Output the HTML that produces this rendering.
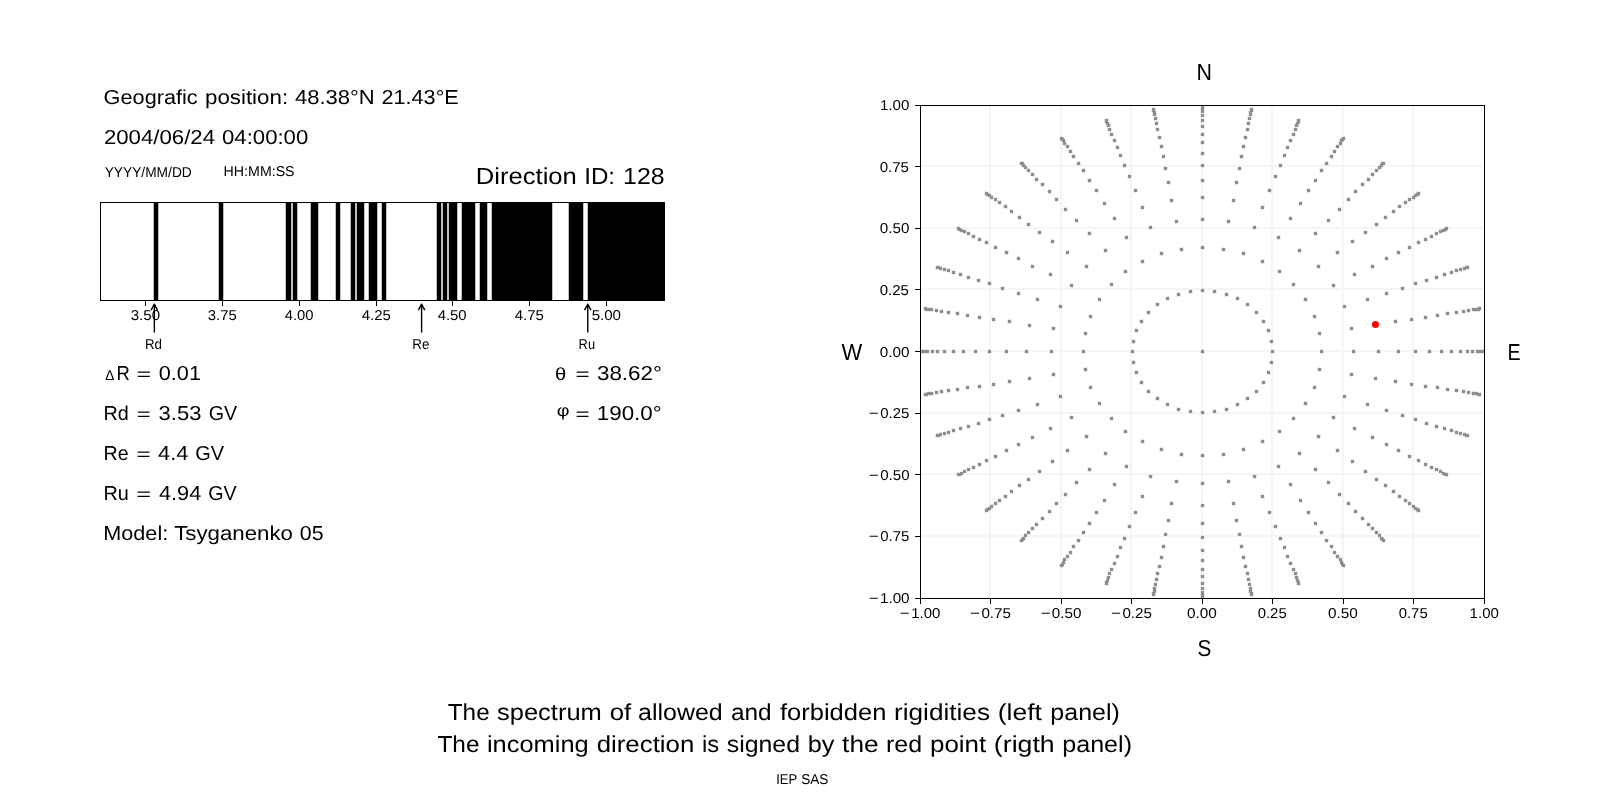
<!DOCTYPE html>
<html><head><meta charset="utf-8"><title>Rigidity spectrum</title><style>
html,body{margin:0;padding:0;background:#fff;width:1600px;height:800px;overflow:hidden}
svg{display:block;will-change:transform;text-rendering:geometricPrecision}
text{font-family:"Liberation Sans", sans-serif;fill:#000}
</style></head><body>
<svg width="1600" height="800" viewBox="0 0 1600 800">
<rect width="1600" height="800" fill="#fff"/>
<g id="gfx">
<g shape-rendering="crispEdges">
<rect x="100" y="202" width="565" height="1"/>
<rect x="100" y="300" width="565" height="1"/>
<rect x="100" y="202" width="1" height="99"/>
<rect x="664" y="202" width="1" height="99"/>
<rect x="145" y="301" width="1" height="4.5"/>
<rect x="222" y="301" width="1" height="4.5"/>
<rect x="299" y="301" width="1" height="4.5"/>
<rect x="376" y="301" width="1" height="4.5"/>
<rect x="452" y="301" width="1" height="4.5"/>
<rect x="529" y="301" width="1" height="4.5"/>
<rect x="606" y="301" width="1" height="4.5"/>
<rect x="989" y="106" width="2" height="492" fill="#f5f5f5"/>
<rect x="921" y="165" width="563" height="2" fill="#f5f5f5"/>
<rect x="1060" y="106" width="2" height="492" fill="#f5f5f5"/>
<rect x="921" y="227" width="563" height="2" fill="#f5f5f5"/>
<rect x="1130" y="106" width="2" height="492" fill="#f5f5f5"/>
<rect x="921" y="288" width="563" height="2" fill="#f5f5f5"/>
<rect x="1201" y="106" width="2" height="492" fill="#f5f5f5"/>
<rect x="921" y="350" width="563" height="2" fill="#f5f5f5"/>
<rect x="1271" y="106" width="2" height="492" fill="#f5f5f5"/>
<rect x="921" y="412" width="563" height="2" fill="#f5f5f5"/>
<rect x="1342" y="106" width="2" height="492" fill="#f5f5f5"/>
<rect x="921" y="473" width="563" height="2" fill="#f5f5f5"/>
<rect x="1412" y="106" width="2" height="492" fill="#f5f5f5"/>
<rect x="921" y="535" width="563" height="2" fill="#f5f5f5"/>
<path fill="#e8e8e8" d="M1200 350h5v3h-5zM1201 349h3v5h-3zM1130 350h5v3h-5zM1131 349h3v5h-3zM1131 361h5v3h-5zM1132 360h3v5h-3zM1134 371h5v3h-5zM1135 370h3v5h-3zM1139 381h5v3h-5zM1140 380h3v5h-3zM1146 390h5v3h-5zM1147 389h3v5h-3zM1155 397h5v3h-5zM1156 396h3v5h-3zM1165 403h5v3h-5zM1166 402h3v5h-3zM1176 408h5v3h-5zM1177 407h3v5h-3zM1188 410h5v3h-5zM1189 409h3v5h-3zM1200 411h5v3h-5zM1201 410h3v5h-3zM1212 410h5v3h-5zM1213 409h3v5h-3zM1224 408h5v3h-5zM1225 407h3v5h-3zM1235 403h5v3h-5zM1236 402h3v5h-3zM1245 397h5v3h-5zM1246 396h3v5h-3zM1254 390h5v3h-5zM1255 389h3v5h-3zM1261 381h5v3h-5zM1262 380h3v5h-3zM1266 371h5v3h-5zM1267 370h3v5h-3zM1269 361h5v3h-5zM1270 360h3v5h-3zM1270 350h5v3h-5zM1271 349h3v5h-3zM1269 340h5v3h-5zM1270 339h3v5h-3zM1266 329h5v3h-5zM1267 328h3v5h-3zM1261 320h5v3h-5zM1262 319h3v5h-3zM1254 311h5v3h-5zM1255 310h3v5h-3zM1245 303h5v3h-5zM1246 302h3v5h-3zM1235 297h5v3h-5zM1236 296h3v5h-3zM1224 293h5v3h-5zM1225 292h3v5h-3zM1212 290h5v3h-5zM1213 289h3v5h-3zM1200 289h5v3h-5zM1201 288h3v5h-3zM1188 290h5v3h-5zM1189 289h3v5h-3zM1176 293h5v3h-5zM1177 292h3v5h-3zM1165 297h5v3h-5zM1166 296h3v5h-3zM1155 303h5v3h-5zM1156 302h3v5h-3zM1146 311h5v3h-5zM1147 310h3v5h-3zM1139 320h5v3h-5zM1140 319h3v5h-3zM1134 329h5v3h-5zM1135 328h3v5h-3zM1131 340h5v3h-5zM1132 339h3v5h-3zM1081 350h5v3h-5zM1082 349h3v5h-3zM1083 368h5v3h-5zM1084 367h3v5h-3zM1088 386h5v3h-5zM1089 385h3v5h-3zM1097 402h5v3h-5zM1098 401h3v5h-3zM1109 417h5v3h-5zM1110 416h3v5h-3zM1123 430h5v3h-5zM1124 429h3v5h-3zM1140 440h5v3h-5zM1141 439h3v5h-3zM1159 448h5v3h-5zM1160 447h3v5h-3zM1179 453h5v3h-5zM1180 452h3v5h-3zM1200 454h5v3h-5zM1201 453h3v5h-3zM1221 453h5v3h-5zM1222 452h3v5h-3zM1241 448h5v3h-5zM1242 447h3v5h-3zM1260 440h5v3h-5zM1261 439h3v5h-3zM1277 430h5v3h-5zM1278 429h3v5h-3zM1291 417h5v3h-5zM1292 416h3v5h-3zM1303 402h5v3h-5zM1304 401h3v5h-3zM1312 386h5v3h-5zM1313 385h3v5h-3zM1317 368h5v3h-5zM1318 367h3v5h-3zM1319 350h5v3h-5zM1320 349h3v5h-3zM1317 332h5v3h-5zM1318 331h3v5h-3zM1312 315h5v3h-5zM1313 314h3v5h-3zM1303 298h5v3h-5zM1304 297h3v5h-3zM1291 283h5v3h-5zM1292 282h3v5h-3zM1277 270h5v3h-5zM1278 269h3v5h-3zM1260 260h5v3h-5zM1261 259h3v5h-3zM1241 252h5v3h-5zM1242 251h3v5h-3zM1221 248h5v3h-5zM1222 247h3v5h-3zM1200 246h5v3h-5zM1201 245h3v5h-3zM1179 248h5v3h-5zM1180 247h3v5h-3zM1159 252h5v3h-5zM1160 251h3v5h-3zM1140 260h5v3h-5zM1141 259h3v5h-3zM1123 270h5v3h-5zM1124 269h3v5h-3zM1109 283h5v3h-5zM1110 282h3v5h-3zM1097 298h5v3h-5zM1098 297h3v5h-3zM1088 315h5v3h-5zM1089 314h3v5h-3zM1083 332h5v3h-5zM1084 331h3v5h-3zM1049 350h5v3h-5zM1050 349h3v5h-3zM1051 373h5v3h-5zM1052 372h3v5h-3zM1058 395h5v3h-5zM1059 394h3v5h-3zM1069 416h5v3h-5zM1070 415h3v5h-3zM1084 435h5v3h-5zM1085 434h3v5h-3zM1103 452h5v3h-5zM1104 451h3v5h-3zM1124 465h5v3h-5zM1125 464h3v5h-3zM1148 475h5v3h-5zM1149 474h3v5h-3zM1174 480h5v3h-5zM1175 479h3v5h-3zM1200 482h5v3h-5zM1201 481h3v5h-3zM1226 480h5v3h-5zM1227 479h3v5h-3zM1252 475h5v3h-5zM1253 474h3v5h-3zM1276 465h5v3h-5zM1277 464h3v5h-3zM1297 452h5v3h-5zM1298 451h3v5h-3zM1316 435h5v3h-5zM1317 434h3v5h-3zM1331 416h5v3h-5zM1332 415h3v5h-3zM1342 395h5v3h-5zM1343 394h3v5h-3zM1349 373h5v3h-5zM1350 372h3v5h-3zM1351 350h5v3h-5zM1352 349h3v5h-3zM1349 327h5v3h-5zM1350 326h3v5h-3zM1342 305h5v3h-5zM1343 304h3v5h-3zM1331 284h5v3h-5zM1332 283h3v5h-3zM1316 265h5v3h-5zM1317 264h3v5h-3zM1297 249h5v3h-5zM1298 248h3v5h-3zM1276 236h5v3h-5zM1277 235h3v5h-3zM1252 226h5v3h-5zM1253 225h3v5h-3zM1226 220h5v3h-5zM1227 219h3v5h-3zM1200 218h5v3h-5zM1201 217h3v5h-3zM1174 220h5v3h-5zM1175 219h3v5h-3zM1148 226h5v3h-5zM1149 225h3v5h-3zM1124 236h5v3h-5zM1125 235h3v5h-3zM1103 249h5v3h-5zM1104 248h3v5h-3zM1084 265h5v3h-5zM1085 264h3v5h-3zM1069 284h5v3h-5zM1070 283h3v5h-3zM1058 305h5v3h-5zM1059 304h3v5h-3zM1051 327h5v3h-5zM1052 326h3v5h-3zM1024 350h5v3h-5zM1025 349h3v5h-3zM1027 377h5v3h-5zM1028 376h3v5h-3zM1035 403h5v3h-5zM1036 402h3v5h-3zM1048 427h5v3h-5zM1049 426h3v5h-3zM1065 449h5v3h-5zM1066 448h3v5h-3zM1087 468h5v3h-5zM1088 467h3v5h-3zM1112 483h5v3h-5zM1113 482h3v5h-3zM1140 495h5v3h-5zM1141 494h3v5h-3zM1169 502h5v3h-5zM1170 501h3v5h-3zM1200 504h5v3h-5zM1201 503h3v5h-3zM1231 502h5v3h-5zM1232 501h3v5h-3zM1260 495h5v3h-5zM1261 494h3v5h-3zM1288 483h5v3h-5zM1289 482h3v5h-3zM1313 468h5v3h-5zM1314 467h3v5h-3zM1335 449h5v3h-5zM1336 448h3v5h-3zM1352 427h5v3h-5zM1353 426h3v5h-3zM1365 403h5v3h-5zM1366 402h3v5h-3zM1373 377h5v3h-5zM1374 376h3v5h-3zM1376 350h5v3h-5zM1377 349h3v5h-3zM1373 324h5v3h-5zM1374 323h3v5h-3zM1365 298h5v3h-5zM1366 297h3v5h-3zM1352 273h5v3h-5zM1353 272h3v5h-3zM1335 251h5v3h-5zM1336 250h3v5h-3zM1313 232h5v3h-5zM1314 231h3v5h-3zM1288 217h5v3h-5zM1289 216h3v5h-3zM1260 206h5v3h-5zM1261 205h3v5h-3zM1231 199h5v3h-5zM1232 198h3v5h-3zM1200 196h5v3h-5zM1201 195h3v5h-3zM1169 199h5v3h-5zM1170 198h3v5h-3zM1140 206h5v3h-5zM1141 205h3v5h-3zM1112 217h5v3h-5zM1113 216h3v5h-3zM1087 232h5v3h-5zM1088 231h3v5h-3zM1065 251h5v3h-5zM1066 250h3v5h-3zM1048 273h5v3h-5zM1049 272h3v5h-3zM1035 298h5v3h-5zM1036 297h3v5h-3zM1027 324h5v3h-5zM1028 323h3v5h-3zM1004 350h5v3h-5zM1005 349h3v5h-3zM1007 380h5v3h-5zM1008 379h3v5h-3zM1016 409h5v3h-5zM1017 408h3v5h-3zM1030 436h5v3h-5zM1031 435h3v5h-3zM1050 460h5v3h-5zM1051 459h3v5h-3zM1074 481h5v3h-5zM1075 480h3v5h-3zM1102 499h5v3h-5zM1103 498h3v5h-3zM1133 511h5v3h-5zM1134 510h3v5h-3zM1166 519h5v3h-5zM1167 518h3v5h-3zM1200 522h5v3h-5zM1201 521h3v5h-3zM1234 519h5v3h-5zM1235 518h3v5h-3zM1267 511h5v3h-5zM1268 510h3v5h-3zM1298 499h5v3h-5zM1299 498h3v5h-3zM1326 481h5v3h-5zM1327 480h3v5h-3zM1350 460h5v3h-5zM1351 459h3v5h-3zM1370 436h5v3h-5zM1371 435h3v5h-3zM1384 409h5v3h-5zM1385 408h3v5h-3zM1393 380h5v3h-5zM1394 379h3v5h-3zM1396 350h5v3h-5zM1397 349h3v5h-3zM1393 320h5v3h-5zM1394 319h3v5h-3zM1384 292h5v3h-5zM1385 291h3v5h-3zM1370 265h5v3h-5zM1371 264h3v5h-3zM1350 240h5v3h-5zM1351 239h3v5h-3zM1326 219h5v3h-5zM1327 218h3v5h-3zM1298 202h5v3h-5zM1299 201h3v5h-3zM1267 189h5v3h-5zM1268 188h3v5h-3zM1234 181h5v3h-5zM1235 180h3v5h-3zM1200 179h5v3h-5zM1201 178h3v5h-3zM1166 181h5v3h-5zM1167 180h3v5h-3zM1133 189h5v3h-5zM1134 188h3v5h-3zM1102 202h5v3h-5zM1103 201h3v5h-3zM1074 219h5v3h-5zM1075 218h3v5h-3zM1050 240h5v3h-5zM1051 239h3v5h-3zM1030 265h5v3h-5zM1031 264h3v5h-3zM1016 292h5v3h-5zM1017 291h3v5h-3zM1007 320h5v3h-5zM1008 319h3v5h-3zM987 350h5v3h-5zM988 349h3v5h-3zM991 383h5v3h-5zM992 382h3v5h-3zM1000 414h5v3h-5zM1001 413h3v5h-3zM1016 443h5v3h-5zM1017 442h3v5h-3zM1037 470h5v3h-5zM1038 469h3v5h-3zM1063 493h5v3h-5zM1064 492h3v5h-3zM1094 511h5v3h-5zM1095 510h3v5h-3zM1127 525h5v3h-5zM1128 524h3v5h-3zM1163 533h5v3h-5zM1164 532h3v5h-3zM1200 536h5v3h-5zM1201 535h3v5h-3zM1237 533h5v3h-5zM1238 532h3v5h-3zM1273 525h5v3h-5zM1274 524h3v5h-3zM1306 511h5v3h-5zM1307 510h3v5h-3zM1337 493h5v3h-5zM1338 492h3v5h-3zM1363 470h5v3h-5zM1364 469h3v5h-3zM1384 443h5v3h-5zM1385 442h3v5h-3zM1400 414h5v3h-5zM1401 413h3v5h-3zM1409 383h5v3h-5zM1410 382h3v5h-3zM1413 350h5v3h-5zM1414 349h3v5h-3zM1409 318h5v3h-5zM1410 317h3v5h-3zM1400 287h5v3h-5zM1401 286h3v5h-3zM1384 257h5v3h-5zM1385 256h3v5h-3zM1363 231h5v3h-5zM1364 230h3v5h-3zM1337 208h5v3h-5zM1338 207h3v5h-3zM1306 189h5v3h-5zM1307 188h3v5h-3zM1273 175h5v3h-5zM1274 174h3v5h-3zM1237 167h5v3h-5zM1238 166h3v5h-3zM1200 164h5v3h-5zM1201 163h3v5h-3zM1163 167h5v3h-5zM1164 166h3v5h-3zM1127 175h5v3h-5zM1128 174h3v5h-3zM1094 189h5v3h-5zM1095 188h3v5h-3zM1063 208h5v3h-5zM1064 207h3v5h-3zM1037 231h5v3h-5zM1038 230h3v5h-3zM1016 257h5v3h-5zM1017 256h3v5h-3zM1000 287h5v3h-5zM1001 286h3v5h-3zM991 318h5v3h-5zM992 317h3v5h-3zM973 350h5v3h-5zM974 349h3v5h-3zM977 385h5v3h-5zM978 384h3v5h-3zM987 418h5v3h-5zM988 417h3v5h-3zM1004 449h5v3h-5zM1005 448h3v5h-3zM1026 478h5v3h-5zM1027 477h3v5h-3zM1054 502h5v3h-5zM1055 501h3v5h-3zM1087 522h5v3h-5zM1088 521h3v5h-3zM1122 537h5v3h-5zM1123 536h3v5h-3zM1161 545h5v3h-5zM1162 544h3v5h-3zM1200 549h5v3h-5zM1201 548h3v5h-3zM1239 545h5v3h-5zM1240 544h3v5h-3zM1278 537h5v3h-5zM1279 536h3v5h-3zM1313 522h5v3h-5zM1314 521h3v5h-3zM1346 502h5v3h-5zM1347 501h3v5h-3zM1374 478h5v3h-5zM1375 477h3v5h-3zM1396 449h5v3h-5zM1397 448h3v5h-3zM1413 418h5v3h-5zM1414 417h3v5h-3zM1423 385h5v3h-5zM1424 384h3v5h-3zM1427 350h5v3h-5zM1428 349h3v5h-3zM1423 316h5v3h-5zM1424 315h3v5h-3zM1413 282h5v3h-5zM1414 281h3v5h-3zM1396 251h5v3h-5zM1397 250h3v5h-3zM1374 223h5v3h-5zM1375 222h3v5h-3zM1346 198h5v3h-5zM1347 197h3v5h-3zM1313 179h5v3h-5zM1314 178h3v5h-3zM1278 164h5v3h-5zM1279 163h3v5h-3zM1239 155h5v3h-5zM1240 154h3v5h-3zM1200 152h5v3h-5zM1201 151h3v5h-3zM1161 155h5v3h-5zM1162 154h3v5h-3zM1122 164h5v3h-5zM1123 163h3v5h-3zM1087 179h5v3h-5zM1088 178h3v5h-3zM1054 198h5v3h-5zM1055 197h3v5h-3zM1026 223h5v3h-5zM1027 222h3v5h-3zM1004 251h5v3h-5zM1005 250h3v5h-3zM987 282h5v3h-5zM988 281h3v5h-3zM977 316h5v3h-5zM978 315h3v5h-3zM961 350h5v3h-5zM962 349h3v5h-3zM965 386h5v3h-5zM966 385h3v5h-3zM976 422h5v3h-5zM977 421h3v5h-3zM993 455h5v3h-5zM994 454h3v5h-3zM1017 484h5v3h-5zM1018 483h3v5h-3zM1047 510h5v3h-5zM1048 509h3v5h-3zM1081 531h5v3h-5zM1082 530h3v5h-3zM1118 546h5v3h-5zM1119 545h3v5h-3zM1159 556h5v3h-5zM1160 555h3v5h-3zM1200 559h5v3h-5zM1201 558h3v5h-3zM1241 556h5v3h-5zM1242 555h3v5h-3zM1282 546h5v3h-5zM1283 545h3v5h-3zM1319 531h5v3h-5zM1320 530h3v5h-3zM1353 510h5v3h-5zM1354 509h3v5h-3zM1383 484h5v3h-5zM1384 483h3v5h-3zM1407 455h5v3h-5zM1408 454h3v5h-3zM1424 422h5v3h-5zM1425 421h3v5h-3zM1435 386h5v3h-5zM1436 385h3v5h-3zM1439 350h5v3h-5zM1440 349h3v5h-3zM1435 314h5v3h-5zM1436 313h3v5h-3zM1424 279h5v3h-5zM1425 278h3v5h-3zM1407 246h5v3h-5zM1408 245h3v5h-3zM1383 216h5v3h-5zM1384 215h3v5h-3zM1353 190h5v3h-5zM1354 189h3v5h-3zM1319 169h5v3h-5zM1320 168h3v5h-3zM1282 154h5v3h-5zM1283 153h3v5h-3zM1241 145h5v3h-5zM1242 144h3v5h-3zM1200 141h5v3h-5zM1201 140h3v5h-3zM1159 145h5v3h-5zM1160 144h3v5h-3zM1118 154h5v3h-5zM1119 153h3v5h-3zM1081 169h5v3h-5zM1082 168h3v5h-3zM1047 190h5v3h-5zM1048 189h3v5h-3zM1017 216h5v3h-5zM1018 215h3v5h-3zM993 246h5v3h-5zM994 245h3v5h-3zM976 279h5v3h-5zM977 278h3v5h-3zM965 314h5v3h-5zM966 313h3v5h-3zM951 350h5v3h-5zM952 349h3v5h-3zM955 388h5v3h-5zM956 387h3v5h-3zM966 425h5v3h-5zM967 424h3v5h-3zM984 459h5v3h-5zM985 458h3v5h-3zM1009 490h5v3h-5zM1010 489h3v5h-3zM1040 517h5v3h-5zM1041 516h3v5h-3zM1076 539h5v3h-5zM1077 538h3v5h-3zM1115 555h5v3h-5zM1116 554h3v5h-3zM1157 565h5v3h-5zM1158 564h3v5h-3zM1200 568h5v3h-5zM1201 567h3v5h-3zM1243 565h5v3h-5zM1244 564h3v5h-3zM1285 555h5v3h-5zM1286 554h3v5h-3zM1324 539h5v3h-5zM1325 538h3v5h-3zM1360 517h5v3h-5zM1361 516h3v5h-3zM1391 490h5v3h-5zM1392 489h3v5h-3zM1416 459h5v3h-5zM1417 458h3v5h-3zM1434 425h5v3h-5zM1435 424h3v5h-3zM1445 388h5v3h-5zM1446 387h3v5h-3zM1449 350h5v3h-5zM1450 349h3v5h-3zM1445 312h5v3h-5zM1446 311h3v5h-3zM1434 276h5v3h-5zM1435 275h3v5h-3zM1416 241h5v3h-5zM1417 240h3v5h-3zM1391 210h5v3h-5zM1392 209h3v5h-3zM1360 183h5v3h-5zM1361 182h3v5h-3zM1324 162h5v3h-5zM1325 161h3v5h-3zM1285 146h5v3h-5zM1286 145h3v5h-3zM1243 136h5v3h-5zM1244 135h3v5h-3zM1200 133h5v3h-5zM1201 132h3v5h-3zM1157 136h5v3h-5zM1158 135h3v5h-3zM1115 146h5v3h-5zM1116 145h3v5h-3zM1076 162h5v3h-5zM1077 161h3v5h-3zM1040 183h5v3h-5zM1041 182h3v5h-3zM1009 210h5v3h-5zM1010 209h3v5h-3zM984 241h5v3h-5zM985 240h3v5h-3zM966 276h5v3h-5zM967 275h3v5h-3zM955 312h5v3h-5zM956 311h3v5h-3zM942 350h5v3h-5zM943 349h3v5h-3zM946 389h5v3h-5zM947 388h3v5h-3zM958 427h5v3h-5zM959 426h3v5h-3zM977 463h5v3h-5zM978 462h3v5h-3zM1003 495h5v3h-5zM1004 494h3v5h-3zM1034 523h5v3h-5zM1035 522h3v5h-3zM1071 545h5v3h-5zM1072 544h3v5h-3zM1112 562h5v3h-5zM1113 561h3v5h-3zM1155 572h5v3h-5zM1156 571h3v5h-3zM1200 575h5v3h-5zM1201 574h3v5h-3zM1245 572h5v3h-5zM1246 571h3v5h-3zM1288 562h5v3h-5zM1289 561h3v5h-3zM1329 545h5v3h-5zM1330 544h3v5h-3zM1366 523h5v3h-5zM1367 522h3v5h-3zM1397 495h5v3h-5zM1398 494h3v5h-3zM1423 463h5v3h-5zM1424 462h3v5h-3zM1442 427h5v3h-5zM1443 426h3v5h-3zM1454 389h5v3h-5zM1455 388h3v5h-3zM1458 350h5v3h-5zM1459 349h3v5h-3zM1454 311h5v3h-5zM1455 310h3v5h-3zM1442 273h5v3h-5zM1443 272h3v5h-3zM1423 238h5v3h-5zM1424 237h3v5h-3zM1397 205h5v3h-5zM1398 204h3v5h-3zM1366 178h5v3h-5zM1367 177h3v5h-3zM1329 155h5v3h-5zM1330 154h3v5h-3zM1288 139h5v3h-5zM1289 138h3v5h-3zM1245 128h5v3h-5zM1246 127h3v5h-3zM1200 125h5v3h-5zM1201 124h3v5h-3zM1155 128h5v3h-5zM1156 127h3v5h-3zM1112 139h5v3h-5zM1113 138h3v5h-3zM1071 155h5v3h-5zM1072 154h3v5h-3zM1034 178h5v3h-5zM1035 177h3v5h-3zM1003 205h5v3h-5zM1004 204h3v5h-3zM977 238h5v3h-5zM978 237h3v5h-3zM958 273h5v3h-5zM959 272h3v5h-3zM946 311h5v3h-5zM947 310h3v5h-3zM935 350h5v3h-5zM936 349h3v5h-3zM939 390h5v3h-5zM940 389h3v5h-3zM951 429h5v3h-5zM952 428h3v5h-3zM971 466h5v3h-5zM972 465h3v5h-3zM997 499h5v3h-5zM998 498h3v5h-3zM1030 527h5v3h-5zM1031 526h3v5h-3zM1068 551h5v3h-5zM1069 550h3v5h-3zM1109 568h5v3h-5zM1110 567h3v5h-3zM1154 578h5v3h-5zM1155 577h3v5h-3zM1200 582h5v3h-5zM1201 581h3v5h-3zM1246 578h5v3h-5zM1247 577h3v5h-3zM1291 568h5v3h-5zM1292 567h3v5h-3zM1332 551h5v3h-5zM1333 550h3v5h-3zM1370 527h5v3h-5zM1371 526h3v5h-3zM1403 499h5v3h-5zM1404 498h3v5h-3zM1429 466h5v3h-5zM1430 465h3v5h-3zM1449 429h5v3h-5zM1450 428h3v5h-3zM1461 390h5v3h-5zM1462 389h3v5h-3zM1465 350h5v3h-5zM1466 349h3v5h-3zM1461 310h5v3h-5zM1462 309h3v5h-3zM1449 271h5v3h-5zM1450 270h3v5h-3zM1429 235h5v3h-5zM1430 234h3v5h-3zM1403 201h5v3h-5zM1404 200h3v5h-3zM1370 173h5v3h-5zM1371 172h3v5h-3zM1332 150h5v3h-5zM1333 149h3v5h-3zM1291 133h5v3h-5zM1292 132h3v5h-3zM1246 122h5v3h-5zM1247 121h3v5h-3zM1200 119h5v3h-5zM1201 118h3v5h-3zM1154 122h5v3h-5zM1155 121h3v5h-3zM1109 133h5v3h-5zM1110 132h3v5h-3zM1068 150h5v3h-5zM1069 149h3v5h-3zM1030 173h5v3h-5zM1031 172h3v5h-3zM997 201h5v3h-5zM998 200h3v5h-3zM971 235h5v3h-5zM972 234h3v5h-3zM951 271h5v3h-5zM952 270h3v5h-3zM939 310h5v3h-5zM940 309h3v5h-3zM930 350h5v3h-5zM931 349h3v5h-3zM934 391h5v3h-5zM935 390h3v5h-3zM946 431h5v3h-5zM947 430h3v5h-3zM966 468h5v3h-5zM967 467h3v5h-3zM993 502h5v3h-5zM994 501h3v5h-3zM1026 531h5v3h-5zM1027 530h3v5h-3zM1065 555h5v3h-5zM1066 554h3v5h-3zM1107 572h5v3h-5zM1108 571h3v5h-3zM1153 583h5v3h-5zM1154 582h3v5h-3zM1200 587h5v3h-5zM1201 586h3v5h-3zM1247 583h5v3h-5zM1248 582h3v5h-3zM1293 572h5v3h-5zM1294 571h3v5h-3zM1335 555h5v3h-5zM1336 554h3v5h-3zM1374 531h5v3h-5zM1375 530h3v5h-3zM1407 502h5v3h-5zM1408 501h3v5h-3zM1434 468h5v3h-5zM1435 467h3v5h-3zM1454 431h5v3h-5zM1455 430h3v5h-3zM1466 391h5v3h-5zM1467 390h3v5h-3zM1470 350h5v3h-5zM1471 349h3v5h-3zM1466 309h5v3h-5zM1467 308h3v5h-3zM1454 269h5v3h-5zM1455 268h3v5h-3zM1434 232h5v3h-5zM1435 231h3v5h-3zM1407 198h5v3h-5zM1408 197h3v5h-3zM1374 169h5v3h-5zM1375 168h3v5h-3zM1335 145h5v3h-5zM1336 144h3v5h-3zM1293 128h5v3h-5zM1294 127h3v5h-3zM1247 117h5v3h-5zM1248 116h3v5h-3zM1200 114h5v3h-5zM1201 113h3v5h-3zM1153 117h5v3h-5zM1154 116h3v5h-3zM1107 128h5v3h-5zM1108 127h3v5h-3zM1065 145h5v3h-5zM1066 144h3v5h-3zM1026 169h5v3h-5zM1027 168h3v5h-3zM993 198h5v3h-5zM994 197h3v5h-3zM966 232h5v3h-5zM967 231h3v5h-3zM946 269h5v3h-5zM947 268h3v5h-3zM934 309h5v3h-5zM935 308h3v5h-3zM925 350h5v3h-5zM926 349h3v5h-3zM929 392h5v3h-5zM930 391h3v5h-3zM942 432h5v3h-5zM943 431h3v5h-3zM962 470h5v3h-5zM963 469h3v5h-3zM989 505h5v3h-5zM990 504h3v5h-3zM1023 534h5v3h-5zM1024 533h3v5h-3zM1062 558h5v3h-5zM1063 557h3v5h-3zM1106 576h5v3h-5zM1107 575h3v5h-3zM1152 587h5v3h-5zM1153 586h3v5h-3zM1200 591h5v3h-5zM1201 590h3v5h-3zM1248 587h5v3h-5zM1249 586h3v5h-3zM1294 576h5v3h-5zM1295 575h3v5h-3zM1338 558h5v3h-5zM1339 557h3v5h-3zM1377 534h5v3h-5zM1378 533h3v5h-3zM1411 505h5v3h-5zM1412 504h3v5h-3zM1438 470h5v3h-5zM1439 469h3v5h-3zM1458 432h5v3h-5zM1459 431h3v5h-3zM1471 392h5v3h-5zM1472 391h3v5h-3zM1475 350h5v3h-5zM1476 349h3v5h-3zM1471 308h5v3h-5zM1472 307h3v5h-3zM1458 268h5v3h-5zM1459 267h3v5h-3zM1438 230h5v3h-5zM1439 229h3v5h-3zM1411 196h5v3h-5zM1412 195h3v5h-3zM1377 166h5v3h-5zM1378 165h3v5h-3zM1338 142h5v3h-5zM1339 141h3v5h-3zM1294 124h5v3h-5zM1295 123h3v5h-3zM1248 113h5v3h-5zM1249 112h3v5h-3zM1200 110h5v3h-5zM1201 109h3v5h-3zM1152 113h5v3h-5zM1153 112h3v5h-3zM1106 124h5v3h-5zM1107 123h3v5h-3zM1062 142h5v3h-5zM1063 141h3v5h-3zM1023 166h5v3h-5zM1024 165h3v5h-3zM989 196h5v3h-5zM990 195h3v5h-3zM962 230h5v3h-5zM963 229h3v5h-3zM942 268h5v3h-5zM943 267h3v5h-3zM929 308h5v3h-5zM930 307h3v5h-3zM922 350h5v3h-5zM923 349h3v5h-3zM926 392h5v3h-5zM927 391h3v5h-3zM938 433h5v3h-5zM939 432h3v5h-3zM959 472h5v3h-5zM960 471h3v5h-3zM987 507h5v3h-5zM988 506h3v5h-3zM1021 537h5v3h-5zM1022 536h3v5h-3zM1061 561h5v3h-5zM1062 560h3v5h-3zM1105 579h5v3h-5zM1106 578h3v5h-3zM1152 590h5v3h-5zM1153 589h3v5h-3zM1200 594h5v3h-5zM1201 593h3v5h-3zM1248 590h5v3h-5zM1249 589h3v5h-3zM1295 579h5v3h-5zM1296 578h3v5h-3zM1339 561h5v3h-5zM1340 560h3v5h-3zM1379 537h5v3h-5zM1380 536h3v5h-3zM1413 507h5v3h-5zM1414 506h3v5h-3zM1441 472h5v3h-5zM1442 471h3v5h-3zM1462 433h5v3h-5zM1463 432h3v5h-3zM1474 392h5v3h-5zM1475 391h3v5h-3zM1478 350h5v3h-5zM1479 349h3v5h-3zM1474 308h5v3h-5zM1475 307h3v5h-3zM1462 267h5v3h-5zM1463 266h3v5h-3zM1441 229h5v3h-5zM1442 228h3v5h-3zM1413 194h5v3h-5zM1414 193h3v5h-3zM1379 164h5v3h-5zM1380 163h3v5h-3zM1339 139h5v3h-5zM1340 138h3v5h-3zM1295 122h5v3h-5zM1296 121h3v5h-3zM1248 111h5v3h-5zM1249 110h3v5h-3zM1200 107h5v3h-5zM1201 106h3v5h-3zM1152 111h5v3h-5zM1153 110h3v5h-3zM1105 122h5v3h-5zM1106 121h3v5h-3zM1061 139h5v3h-5zM1062 138h3v5h-3zM1021 164h5v3h-5zM1022 163h3v5h-3zM987 194h5v3h-5zM988 193h3v5h-3zM959 229h5v3h-5zM960 228h3v5h-3zM938 267h5v3h-5zM939 266h3v5h-3zM926 308h5v3h-5zM927 307h3v5h-3zM921 350h3v3h-3zM921 349h2v5h-2zM924 393h5v3h-5zM925 392h3v5h-3zM936 434h5v3h-5zM937 433h3v5h-3zM957 473h5v3h-5zM958 472h3v5h-3zM985 508h5v3h-5zM986 507h3v5h-3zM1020 538h5v3h-5zM1021 537h3v5h-3zM1060 563h5v3h-5zM1061 562h3v5h-3zM1104 581h5v3h-5zM1105 580h3v5h-3zM1151 592h5v3h-5zM1152 591h3v5h-3zM1200 596h5v2h-5zM1201 595h3v3h-3zM1249 592h5v3h-5zM1250 591h3v5h-3zM1296 581h5v3h-5zM1297 580h3v5h-3zM1340 563h5v3h-5zM1341 562h3v5h-3zM1380 538h5v3h-5zM1381 537h3v5h-3zM1415 508h5v3h-5zM1416 507h3v5h-3zM1443 473h5v3h-5zM1444 472h3v5h-3zM1464 434h5v3h-5zM1465 433h3v5h-3zM1476 393h5v3h-5zM1477 392h3v5h-3zM1481 350h3v3h-3zM1482 349h2v5h-2zM1476 308h5v3h-5zM1477 307h3v5h-3zM1464 266h5v3h-5zM1465 265h3v5h-3zM1443 228h5v3h-5zM1444 227h3v5h-3zM1415 193h5v3h-5zM1416 192h3v5h-3zM1380 162h5v3h-5zM1381 161h3v5h-3zM1340 138h5v3h-5zM1341 137h3v5h-3zM1296 120h5v3h-5zM1297 119h3v5h-3zM1249 109h5v3h-5zM1250 108h3v5h-3zM1200 106h5v2h-5zM1201 106h3v3h-3zM1151 109h5v3h-5zM1152 108h3v5h-3zM1104 120h5v3h-5zM1105 119h3v5h-3zM1060 138h5v3h-5zM1061 137h3v5h-3zM1020 162h5v3h-5zM1021 161h3v5h-3zM985 193h5v3h-5zM986 192h3v5h-3zM957 228h5v3h-5zM958 227h3v5h-3zM936 266h5v3h-5zM937 265h3v5h-3zM924 308h5v3h-5zM925 307h3v5h-3zM921 350h2v3h-2zM921 349h1v5h-1zM923 393h5v3h-5zM924 392h3v5h-3zM935 434h5v3h-5zM936 433h3v5h-3zM956 473h5v3h-5zM957 472h3v5h-3zM984 509h5v3h-5zM985 508h3v5h-3zM1019 539h5v3h-5zM1020 538h3v5h-3zM1059 564h5v3h-5zM1060 563h3v5h-3zM1104 582h5v3h-5zM1105 581h3v5h-3zM1151 593h5v3h-5zM1152 592h3v5h-3zM1200 597h5v1h-5zM1201 596h3v2h-3zM1249 593h5v3h-5zM1250 592h3v5h-3zM1296 582h5v3h-5zM1297 581h3v5h-3zM1341 564h5v3h-5zM1342 563h3v5h-3zM1381 539h5v3h-5zM1382 538h3v5h-3zM1416 509h5v3h-5zM1417 508h3v5h-3zM1444 473h5v3h-5zM1445 472h3v5h-3zM1465 434h5v3h-5zM1466 433h3v5h-3zM1477 393h5v3h-5zM1478 392h3v5h-3zM1482 350h2v3h-2zM1483 349h1v5h-1zM1477 307h5v3h-5zM1478 306h3v5h-3zM1465 266h5v3h-5zM1466 265h3v5h-3zM1444 227h5v3h-5zM1445 226h3v5h-3zM1416 192h5v3h-5zM1417 191h3v5h-3zM1381 162h5v3h-5zM1382 161h3v5h-3zM1341 137h5v3h-5zM1342 136h3v5h-3zM1296 119h5v3h-5zM1297 118h3v5h-3zM1249 108h5v3h-5zM1250 107h3v5h-3zM1200 106h5v1h-5zM1201 106h3v2h-3zM1151 108h5v3h-5zM1152 107h3v5h-3zM1104 119h5v3h-5zM1105 118h3v5h-3zM1059 137h5v3h-5zM1060 136h3v5h-3zM1019 162h5v3h-5zM1020 161h3v5h-3zM984 192h5v3h-5zM985 191h3v5h-3zM956 227h5v3h-5zM957 226h3v5h-3zM935 266h5v3h-5zM936 265h3v5h-3zM923 307h5v3h-5zM924 306h3v5h-3z"/>
<path fill="#8e8e8e" d="M1201 350h3v3h-3zM1131 350h3v3h-3zM1132 361h3v3h-3zM1135 371h3v3h-3zM1140 381h3v3h-3zM1147 390h3v3h-3zM1156 397h3v3h-3zM1166 403h3v3h-3zM1177 408h3v3h-3zM1189 410h3v3h-3zM1201 411h3v3h-3zM1213 410h3v3h-3zM1225 408h3v3h-3zM1236 403h3v3h-3zM1246 397h3v3h-3zM1255 390h3v3h-3zM1262 381h3v3h-3zM1267 371h3v3h-3zM1270 361h3v3h-3zM1271 350h3v3h-3zM1270 340h3v3h-3zM1267 329h3v3h-3zM1262 320h3v3h-3zM1255 311h3v3h-3zM1246 303h3v3h-3zM1236 297h3v3h-3zM1225 293h3v3h-3zM1213 290h3v3h-3zM1201 289h3v3h-3zM1189 290h3v3h-3zM1177 293h3v3h-3zM1166 297h3v3h-3zM1156 303h3v3h-3zM1147 311h3v3h-3zM1140 320h3v3h-3zM1135 329h3v3h-3zM1132 340h3v3h-3zM1082 350h3v3h-3zM1084 368h3v3h-3zM1089 386h3v3h-3zM1098 402h3v3h-3zM1110 417h3v3h-3zM1124 430h3v3h-3zM1141 440h3v3h-3zM1160 448h3v3h-3zM1180 453h3v3h-3zM1201 454h3v3h-3zM1222 453h3v3h-3zM1242 448h3v3h-3zM1261 440h3v3h-3zM1278 430h3v3h-3zM1292 417h3v3h-3zM1304 402h3v3h-3zM1313 386h3v3h-3zM1318 368h3v3h-3zM1320 350h3v3h-3zM1318 332h3v3h-3zM1313 315h3v3h-3zM1304 298h3v3h-3zM1292 283h3v3h-3zM1278 270h3v3h-3zM1261 260h3v3h-3zM1242 252h3v3h-3zM1222 248h3v3h-3zM1201 246h3v3h-3zM1180 248h3v3h-3zM1160 252h3v3h-3zM1141 260h3v3h-3zM1124 270h3v3h-3zM1110 283h3v3h-3zM1098 298h3v3h-3zM1089 315h3v3h-3zM1084 332h3v3h-3zM1050 350h3v3h-3zM1052 373h3v3h-3zM1059 395h3v3h-3zM1070 416h3v3h-3zM1085 435h3v3h-3zM1104 452h3v3h-3zM1125 465h3v3h-3zM1149 475h3v3h-3zM1175 480h3v3h-3zM1201 482h3v3h-3zM1227 480h3v3h-3zM1253 475h3v3h-3zM1277 465h3v3h-3zM1298 452h3v3h-3zM1317 435h3v3h-3zM1332 416h3v3h-3zM1343 395h3v3h-3zM1350 373h3v3h-3zM1352 350h3v3h-3zM1350 327h3v3h-3zM1343 305h3v3h-3zM1332 284h3v3h-3zM1317 265h3v3h-3zM1298 249h3v3h-3zM1277 236h3v3h-3zM1253 226h3v3h-3zM1227 220h3v3h-3zM1201 218h3v3h-3zM1175 220h3v3h-3zM1149 226h3v3h-3zM1125 236h3v3h-3zM1104 249h3v3h-3zM1085 265h3v3h-3zM1070 284h3v3h-3zM1059 305h3v3h-3zM1052 327h3v3h-3zM1025 350h3v3h-3zM1028 377h3v3h-3zM1036 403h3v3h-3zM1049 427h3v3h-3zM1066 449h3v3h-3zM1088 468h3v3h-3zM1113 483h3v3h-3zM1141 495h3v3h-3zM1170 502h3v3h-3zM1201 504h3v3h-3zM1232 502h3v3h-3zM1261 495h3v3h-3zM1289 483h3v3h-3zM1314 468h3v3h-3zM1336 449h3v3h-3zM1353 427h3v3h-3zM1366 403h3v3h-3zM1374 377h3v3h-3zM1377 350h3v3h-3zM1374 324h3v3h-3zM1366 298h3v3h-3zM1353 273h3v3h-3zM1336 251h3v3h-3zM1314 232h3v3h-3zM1289 217h3v3h-3zM1261 206h3v3h-3zM1232 199h3v3h-3zM1201 196h3v3h-3zM1170 199h3v3h-3zM1141 206h3v3h-3zM1113 217h3v3h-3zM1088 232h3v3h-3zM1066 251h3v3h-3zM1049 273h3v3h-3zM1036 298h3v3h-3zM1028 324h3v3h-3zM1005 350h3v3h-3zM1008 380h3v3h-3zM1017 409h3v3h-3zM1031 436h3v3h-3zM1051 460h3v3h-3zM1075 481h3v3h-3zM1103 499h3v3h-3zM1134 511h3v3h-3zM1167 519h3v3h-3zM1201 522h3v3h-3zM1235 519h3v3h-3zM1268 511h3v3h-3zM1299 499h3v3h-3zM1327 481h3v3h-3zM1351 460h3v3h-3zM1371 436h3v3h-3zM1385 409h3v3h-3zM1394 380h3v3h-3zM1397 350h3v3h-3zM1394 320h3v3h-3zM1385 292h3v3h-3zM1371 265h3v3h-3zM1351 240h3v3h-3zM1327 219h3v3h-3zM1299 202h3v3h-3zM1268 189h3v3h-3zM1235 181h3v3h-3zM1201 179h3v3h-3zM1167 181h3v3h-3zM1134 189h3v3h-3zM1103 202h3v3h-3zM1075 219h3v3h-3zM1051 240h3v3h-3zM1031 265h3v3h-3zM1017 292h3v3h-3zM1008 320h3v3h-3zM988 350h3v3h-3zM992 383h3v3h-3zM1001 414h3v3h-3zM1017 443h3v3h-3zM1038 470h3v3h-3zM1064 493h3v3h-3zM1095 511h3v3h-3zM1128 525h3v3h-3zM1164 533h3v3h-3zM1201 536h3v3h-3zM1238 533h3v3h-3zM1274 525h3v3h-3zM1307 511h3v3h-3zM1338 493h3v3h-3zM1364 470h3v3h-3zM1385 443h3v3h-3zM1401 414h3v3h-3zM1410 383h3v3h-3zM1414 350h3v3h-3zM1410 318h3v3h-3zM1401 287h3v3h-3zM1385 257h3v3h-3zM1364 231h3v3h-3zM1338 208h3v3h-3zM1307 189h3v3h-3zM1274 175h3v3h-3zM1238 167h3v3h-3zM1201 164h3v3h-3zM1164 167h3v3h-3zM1128 175h3v3h-3zM1095 189h3v3h-3zM1064 208h3v3h-3zM1038 231h3v3h-3zM1017 257h3v3h-3zM1001 287h3v3h-3zM992 318h3v3h-3zM974 350h3v3h-3zM978 385h3v3h-3zM988 418h3v3h-3zM1005 449h3v3h-3zM1027 478h3v3h-3zM1055 502h3v3h-3zM1088 522h3v3h-3zM1123 537h3v3h-3zM1162 545h3v3h-3zM1201 549h3v3h-3zM1240 545h3v3h-3zM1279 537h3v3h-3zM1314 522h3v3h-3zM1347 502h3v3h-3zM1375 478h3v3h-3zM1397 449h3v3h-3zM1414 418h3v3h-3zM1424 385h3v3h-3zM1428 350h3v3h-3zM1424 316h3v3h-3zM1414 282h3v3h-3zM1397 251h3v3h-3zM1375 223h3v3h-3zM1347 198h3v3h-3zM1314 179h3v3h-3zM1279 164h3v3h-3zM1240 155h3v3h-3zM1201 152h3v3h-3zM1162 155h3v3h-3zM1123 164h3v3h-3zM1088 179h3v3h-3zM1055 198h3v3h-3zM1027 223h3v3h-3zM1005 251h3v3h-3zM988 282h3v3h-3zM978 316h3v3h-3zM962 350h3v3h-3zM966 386h3v3h-3zM977 422h3v3h-3zM994 455h3v3h-3zM1018 484h3v3h-3zM1048 510h3v3h-3zM1082 531h3v3h-3zM1119 546h3v3h-3zM1160 556h3v3h-3zM1201 559h3v3h-3zM1242 556h3v3h-3zM1283 546h3v3h-3zM1320 531h3v3h-3zM1354 510h3v3h-3zM1384 484h3v3h-3zM1408 455h3v3h-3zM1425 422h3v3h-3zM1436 386h3v3h-3zM1440 350h3v3h-3zM1436 314h3v3h-3zM1425 279h3v3h-3zM1408 246h3v3h-3zM1384 216h3v3h-3zM1354 190h3v3h-3zM1320 169h3v3h-3zM1283 154h3v3h-3zM1242 145h3v3h-3zM1201 141h3v3h-3zM1160 145h3v3h-3zM1119 154h3v3h-3zM1082 169h3v3h-3zM1048 190h3v3h-3zM1018 216h3v3h-3zM994 246h3v3h-3zM977 279h3v3h-3zM966 314h3v3h-3zM952 350h3v3h-3zM956 388h3v3h-3zM967 425h3v3h-3zM985 459h3v3h-3zM1010 490h3v3h-3zM1041 517h3v3h-3zM1077 539h3v3h-3zM1116 555h3v3h-3zM1158 565h3v3h-3zM1201 568h3v3h-3zM1244 565h3v3h-3zM1286 555h3v3h-3zM1325 539h3v3h-3zM1361 517h3v3h-3zM1392 490h3v3h-3zM1417 459h3v3h-3zM1435 425h3v3h-3zM1446 388h3v3h-3zM1450 350h3v3h-3zM1446 312h3v3h-3zM1435 276h3v3h-3zM1417 241h3v3h-3zM1392 210h3v3h-3zM1361 183h3v3h-3zM1325 162h3v3h-3zM1286 146h3v3h-3zM1244 136h3v3h-3zM1201 133h3v3h-3zM1158 136h3v3h-3zM1116 146h3v3h-3zM1077 162h3v3h-3zM1041 183h3v3h-3zM1010 210h3v3h-3zM985 241h3v3h-3zM967 276h3v3h-3zM956 312h3v3h-3zM943 350h3v3h-3zM947 389h3v3h-3zM959 427h3v3h-3zM978 463h3v3h-3zM1004 495h3v3h-3zM1035 523h3v3h-3zM1072 545h3v3h-3zM1113 562h3v3h-3zM1156 572h3v3h-3zM1201 575h3v3h-3zM1246 572h3v3h-3zM1289 562h3v3h-3zM1330 545h3v3h-3zM1367 523h3v3h-3zM1398 495h3v3h-3zM1424 463h3v3h-3zM1443 427h3v3h-3zM1455 389h3v3h-3zM1459 350h3v3h-3zM1455 311h3v3h-3zM1443 273h3v3h-3zM1424 238h3v3h-3zM1398 205h3v3h-3zM1367 178h3v3h-3zM1330 155h3v3h-3zM1289 139h3v3h-3zM1246 128h3v3h-3zM1201 125h3v3h-3zM1156 128h3v3h-3zM1113 139h3v3h-3zM1072 155h3v3h-3zM1035 178h3v3h-3zM1004 205h3v3h-3zM978 238h3v3h-3zM959 273h3v3h-3zM947 311h3v3h-3zM936 350h3v3h-3zM940 390h3v3h-3zM952 429h3v3h-3zM972 466h3v3h-3zM998 499h3v3h-3zM1031 527h3v3h-3zM1069 551h3v3h-3zM1110 568h3v3h-3zM1155 578h3v3h-3zM1201 582h3v3h-3zM1247 578h3v3h-3zM1292 568h3v3h-3zM1333 551h3v3h-3zM1371 527h3v3h-3zM1404 499h3v3h-3zM1430 466h3v3h-3zM1450 429h3v3h-3zM1462 390h3v3h-3zM1466 350h3v3h-3zM1462 310h3v3h-3zM1450 271h3v3h-3zM1430 235h3v3h-3zM1404 201h3v3h-3zM1371 173h3v3h-3zM1333 150h3v3h-3zM1292 133h3v3h-3zM1247 122h3v3h-3zM1201 119h3v3h-3zM1155 122h3v3h-3zM1110 133h3v3h-3zM1069 150h3v3h-3zM1031 173h3v3h-3zM998 201h3v3h-3zM972 235h3v3h-3zM952 271h3v3h-3zM940 310h3v3h-3zM931 350h3v3h-3zM935 391h3v3h-3zM947 431h3v3h-3zM967 468h3v3h-3zM994 502h3v3h-3zM1027 531h3v3h-3zM1066 555h3v3h-3zM1108 572h3v3h-3zM1154 583h3v3h-3zM1201 587h3v3h-3zM1248 583h3v3h-3zM1294 572h3v3h-3zM1336 555h3v3h-3zM1375 531h3v3h-3zM1408 502h3v3h-3zM1435 468h3v3h-3zM1455 431h3v3h-3zM1467 391h3v3h-3zM1471 350h3v3h-3zM1467 309h3v3h-3zM1455 269h3v3h-3zM1435 232h3v3h-3zM1408 198h3v3h-3zM1375 169h3v3h-3zM1336 145h3v3h-3zM1294 128h3v3h-3zM1248 117h3v3h-3zM1201 114h3v3h-3zM1154 117h3v3h-3zM1108 128h3v3h-3zM1066 145h3v3h-3zM1027 169h3v3h-3zM994 198h3v3h-3zM967 232h3v3h-3zM947 269h3v3h-3zM935 309h3v3h-3zM926 350h3v3h-3zM930 392h3v3h-3zM943 432h3v3h-3zM963 470h3v3h-3zM990 505h3v3h-3zM1024 534h3v3h-3zM1063 558h3v3h-3zM1107 576h3v3h-3zM1153 587h3v3h-3zM1201 591h3v3h-3zM1249 587h3v3h-3zM1295 576h3v3h-3zM1339 558h3v3h-3zM1378 534h3v3h-3zM1412 505h3v3h-3zM1439 470h3v3h-3zM1459 432h3v3h-3zM1472 392h3v3h-3zM1476 350h3v3h-3zM1472 308h3v3h-3zM1459 268h3v3h-3zM1439 230h3v3h-3zM1412 196h3v3h-3zM1378 166h3v3h-3zM1339 142h3v3h-3zM1295 124h3v3h-3zM1249 113h3v3h-3zM1201 110h3v3h-3zM1153 113h3v3h-3zM1107 124h3v3h-3zM1063 142h3v3h-3zM1024 166h3v3h-3zM990 196h3v3h-3zM963 230h3v3h-3zM943 268h3v3h-3zM930 308h3v3h-3zM923 350h3v3h-3zM927 392h3v3h-3zM939 433h3v3h-3zM960 472h3v3h-3zM988 507h3v3h-3zM1022 537h3v3h-3zM1062 561h3v3h-3zM1106 579h3v3h-3zM1153 590h3v3h-3zM1201 594h3v3h-3zM1249 590h3v3h-3zM1296 579h3v3h-3zM1340 561h3v3h-3zM1380 537h3v3h-3zM1414 507h3v3h-3zM1442 472h3v3h-3zM1463 433h3v3h-3zM1475 392h3v3h-3zM1479 350h3v3h-3zM1475 308h3v3h-3zM1463 267h3v3h-3zM1442 229h3v3h-3zM1414 194h3v3h-3zM1380 164h3v3h-3zM1340 139h3v3h-3zM1296 122h3v3h-3zM1249 111h3v3h-3zM1201 107h3v3h-3zM1153 111h3v3h-3zM1106 122h3v3h-3zM1062 139h3v3h-3zM1022 164h3v3h-3zM988 194h3v3h-3zM960 229h3v3h-3zM939 267h3v3h-3zM927 308h3v3h-3zM921 350h2v3h-2zM925 393h3v3h-3zM937 434h3v3h-3zM958 473h3v3h-3zM986 508h3v3h-3zM1021 538h3v3h-3zM1061 563h3v3h-3zM1105 581h3v3h-3zM1152 592h3v3h-3zM1201 596h3v2h-3zM1250 592h3v3h-3zM1297 581h3v3h-3zM1341 563h3v3h-3zM1381 538h3v3h-3zM1416 508h3v3h-3zM1444 473h3v3h-3zM1465 434h3v3h-3zM1477 393h3v3h-3zM1482 350h2v3h-2zM1477 308h3v3h-3zM1465 266h3v3h-3zM1444 228h3v3h-3zM1416 193h3v3h-3zM1381 162h3v3h-3zM1341 138h3v3h-3zM1297 120h3v3h-3zM1250 109h3v3h-3zM1201 106h3v2h-3zM1152 109h3v3h-3zM1105 120h3v3h-3zM1061 138h3v3h-3zM1021 162h3v3h-3zM986 193h3v3h-3zM958 228h3v3h-3zM937 266h3v3h-3zM925 308h3v3h-3zM921 350h1v3h-1zM924 393h3v3h-3zM936 434h3v3h-3zM957 473h3v3h-3zM985 509h3v3h-3zM1020 539h3v3h-3zM1060 564h3v3h-3zM1105 582h3v3h-3zM1152 593h3v3h-3zM1201 597h3v1h-3zM1250 593h3v3h-3zM1297 582h3v3h-3zM1342 564h3v3h-3zM1382 539h3v3h-3zM1417 509h3v3h-3zM1445 473h3v3h-3zM1466 434h3v3h-3zM1478 393h3v3h-3zM1483 350h1v3h-1zM1478 307h3v3h-3zM1466 266h3v3h-3zM1445 227h3v3h-3zM1417 192h3v3h-3zM1382 162h3v3h-3zM1342 137h3v3h-3zM1297 119h3v3h-3zM1250 108h3v3h-3zM1201 106h3v1h-3zM1152 108h3v3h-3zM1105 119h3v3h-3zM1060 137h3v3h-3zM1020 162h3v3h-3zM985 192h3v3h-3zM957 227h3v3h-3zM936 266h3v3h-3zM924 307h3v3h-3z"/>
<rect x="920" y="105" width="565" height="1"/>
<rect x="920" y="598" width="565" height="1"/>
<rect x="920" y="105" width="1" height="494"/>
<rect x="1484" y="105" width="1" height="494"/>
<rect x="920" y="599" width="1" height="4.6"/>
<rect x="915.2" y="105" width="4.8" height="1"/>
<rect x="990" y="599" width="1" height="4.6"/>
<rect x="915.2" y="166" width="4.8" height="1"/>
<rect x="1061" y="599" width="1" height="4.6"/>
<rect x="915.2" y="228" width="4.8" height="1"/>
<rect x="1131" y="599" width="1" height="4.6"/>
<rect x="915.2" y="289" width="4.8" height="1"/>
<rect x="1202" y="599" width="1" height="4.6"/>
<rect x="915.2" y="351" width="4.8" height="1"/>
<rect x="1272" y="599" width="1" height="4.6"/>
<rect x="915.2" y="413" width="4.8" height="1"/>
<rect x="1343" y="599" width="1" height="4.6"/>
<rect x="915.2" y="474" width="4.8" height="1"/>
<rect x="1413" y="599" width="1" height="4.6"/>
<rect x="915.2" y="536" width="4.8" height="1"/>
<rect x="1484" y="599" width="1" height="4.6"/>
<rect x="915.2" y="598" width="4.8" height="1"/>
</g>
<rect x="153.75" y="202" width="4.50" height="99"/>
<rect x="218.75" y="202" width="4.50" height="99"/>
<rect x="285.75" y="202" width="5.50" height="99"/>
<rect x="292.75" y="202" width="4.50" height="99"/>
<rect x="310.75" y="202" width="7.50" height="99"/>
<rect x="335.75" y="202" width="4.50" height="99"/>
<rect x="350.75" y="202" width="4.50" height="99"/>
<rect x="356.75" y="202" width="7.50" height="99"/>
<rect x="368.75" y="202" width="8.50" height="99"/>
<rect x="381.75" y="202" width="4.50" height="99"/>
<rect x="436.75" y="202" width="4.50" height="99"/>
<rect x="442.75" y="202" width="4.50" height="99"/>
<rect x="448.75" y="202" width="8.50" height="99"/>
<rect x="461.75" y="202" width="13.50" height="99"/>
<rect x="479.75" y="202" width="7.50" height="99"/>
<rect x="491.75" y="202" width="60.50" height="99"/>
<rect x="568.75" y="202" width="14.50" height="99"/>
<rect x="587.75" y="202" width="77.25" height="99"/>
<path d="M154.35 332.6V304.4M151.15 310.2L154.35 304.2L157.55 310.2" stroke="#000" stroke-width="1.4" fill="none" stroke-linejoin="round"/>
<path d="M421.60 332.6V304.4M418.40 310.2L421.60 304.2L424.80 310.2" stroke="#000" stroke-width="1.4" fill="none" stroke-linejoin="round"/>
<path d="M587.75 332.6V304.4M584.55 310.2L587.75 304.2L590.95 310.2" stroke="#000" stroke-width="1.4" fill="none" stroke-linejoin="round"/>
<circle cx="1375.47" cy="324.4" r="3.5" fill="#f00"/>
</g>
<g id="txt">
<text id="geo_w0" transform="matrix(1.0755 0 0 1.0000 103.60 103.90)" font-size="20.20">Geografic</text>
<text id="geo_w1" transform="matrix(1.1055 0 0 1.0000 204.98 103.90)" font-size="20.20">position:</text>
<text id="geo_w2" transform="matrix(1.0911 0 0 1.0000 294.90 103.90)" font-size="20.20">48.38°N</text>
<text id="geo_w3" transform="matrix(1.0716 0 0 1.0000 381.51 103.90)" font-size="20.20">21.43°E</text>
<text id="date_w0" transform="matrix(1.0996 0 0 1.0000 103.90 143.90)" font-size="20.20">2004/06/24</text>
<text id="date_w1" transform="matrix(1.0973 0 0 1.0000 222.02 143.90)" font-size="20.20">04:00:00</text>
<text id="ymd" transform="matrix(0.9624 0 0 1.0000 104.63 176.90)" font-size="14.30">YYYY/MM/DD</text>
<text id="hms" transform="matrix(0.9926 0 0 1.0000 223.62 176.25)" font-size="14.30">HH:MM:SS</text>
<text id="dir_w0" transform="matrix(1.1092 0 0 1.0000 475.77 183.90)" font-size="23.10">Direction</text>
<text id="dir_w1" transform="matrix(1.0466 0 0 1.0000 584.19 183.90)" font-size="23.10">ID:</text>
<text id="dir_w2" transform="matrix(1.0801 0 0 1.0000 623.12 183.90)" font-size="23.10">128</text>
<text id="delta" transform="matrix(0.9714 0 0 1.0141 105.31 379.57)" font-size="14.00">Δ</text>
<text id="dR_w0" transform="matrix(0.9151 0 0 1.0000 116.50 379.95)" font-size="20.20">R</text>
<text id="dR_w1" transform="matrix(1.2417 0 0 0.8534 136.61 379.73)" font-size="20.20">=</text>
<text id="dR_w2" transform="matrix(1.0728 0 0 1.0000 158.80 379.95)" font-size="20.20">0.01</text>
<text id="rd_w0" transform="matrix(0.9802 0 0 1.0000 103.49 420.00)" font-size="20.20">Rd</text>
<text id="rd_w1" transform="matrix(1.1711 0 0 0.8534 136.83 420.02)" font-size="20.20">=</text>
<text id="rd_w2" transform="matrix(1.0906 0 0 1.0000 158.53 420.00)" font-size="20.20">3.53</text>
<text id="rd_w3" transform="matrix(0.9753 0 0 1.0000 208.65 420.00)" font-size="20.20">GV</text>
<text id="re_w0" transform="matrix(0.9718 0 0 1.0000 103.50 460.00)" font-size="20.20">Re</text>
<text id="re_w1" transform="matrix(1.1944 0 0 0.8534 136.46 460.02)" font-size="20.20">=</text>
<text id="re_w2" transform="matrix(1.0785 0 0 1.0000 158.07 460.00)" font-size="20.20">4.4</text>
<text id="re_w3" transform="matrix(0.9913 0 0 1.0000 195.18 460.00)" font-size="20.20">GV</text>
<text id="ru_w0" transform="matrix(0.9817 0 0 1.0000 103.48 500.00)" font-size="20.20">Ru</text>
<text id="ru_w1" transform="matrix(1.2571 0 0 0.8534 136.33 500.02)" font-size="20.20">=</text>
<text id="ru_w2" transform="matrix(1.0754 0 0 1.0000 158.97 500.00)" font-size="20.20">4.94</text>
<text id="ru_w3" transform="matrix(0.9752 0 0 1.0000 208.28 500.00)" font-size="20.20">GV</text>
<text id="model_w0" transform="matrix(1.0731 0 0 1.0000 103.22 540.00)" font-size="20.20">Model:</text>
<text id="model_w1" transform="matrix(1.1022 0 0 1.0000 174.14 540.00)" font-size="20.20">Tsyganenko</text>
<text id="model_w2" transform="matrix(1.0600 0 0 1.0000 299.77 540.00)" font-size="20.20">05</text>
<text id="theta" transform="matrix(0.9988 0 0 0.8768 555.00 379.66)" font-size="20.20" font-family="Liberation Serif">θ</text>
<text id="th_eq" transform="matrix(1.2016 0 0 0.8534 575.41 380.11)" font-size="20.20">=</text>
<text id="th_num" transform="matrix(1.1096 0 0 1.0000 596.94 380.10)" font-size="20.20">38.62°</text>
<text id="phi" transform="matrix(0.9736 0 0 0.8078 556.87 416.21)" font-size="20.20" font-family="Liberation Serif">φ</text>
<text id="ph_eq" transform="matrix(1.2016 0 0 0.8534 575.41 419.77)" font-size="20.20">=</text>
<text id="ph_num" transform="matrix(1.1087 0 0 1.0000 596.78 419.70)" font-size="20.20">190.0°</text>
<text id="cap1_w0" transform="matrix(1.0530 0 0 1.0000 447.76 720.10)" font-size="23.10">The</text>
<text id="cap1_w1" transform="matrix(1.1040 0 0 1.0000 496.99 720.10)" font-size="23.10">spectrum</text>
<text id="cap1_w2" transform="matrix(1.1179 0 0 1.0000 609.67 720.10)" font-size="23.10">of</text>
<text id="cap1_w3" transform="matrix(1.0812 0 0 1.0000 638.05 720.10)" font-size="23.10">allowed</text>
<text id="cap1_w4" transform="matrix(1.0571 0 0 1.0000 730.92 720.10)" font-size="23.10">and</text>
<text id="cap1_w5" transform="matrix(1.1058 0 0 1.0000 779.94 720.10)" font-size="23.10">forbidden</text>
<text id="cap1_w6" transform="matrix(1.1325 0 0 1.0000 894.03 720.10)" font-size="23.10">rigidities</text>
<text id="cap1_w7" transform="matrix(1.1484 0 0 1.0000 997.69 720.10)" font-size="23.10">(left</text>
<text id="cap1_w8" transform="matrix(1.0806 0 0 1.0000 1050.37 720.10)" font-size="23.10">panel)</text>
<text id="cap2_w0" transform="matrix(1.0552 0 0 1.0000 437.45 751.75)" font-size="23.10">The</text>
<text id="cap2_w1" transform="matrix(1.1005 0 0 1.0000 486.96 751.75)" font-size="23.10">incoming</text>
<text id="cap2_w2" transform="matrix(1.1181 0 0 1.0000 596.67 751.75)" font-size="23.10">direction</text>
<text id="cap2_w3" transform="matrix(1.0281 0 0 1.0000 701.98 751.75)" font-size="23.10">is</text>
<text id="cap2_w4" transform="matrix(1.0758 0 0 1.0000 726.77 751.75)" font-size="23.10">signed</text>
<text id="cap2_w5" transform="matrix(1.0959 0 0 1.0000 807.72 751.75)" font-size="23.10">by</text>
<text id="cap2_w6" transform="matrix(1.1382 0 0 1.0000 842.09 751.75)" font-size="23.10">the</text>
<text id="cap2_w7" transform="matrix(1.0832 0 0 1.0000 886.03 751.75)" font-size="23.10">red</text>
<text id="cap2_w8" transform="matrix(1.1228 0 0 1.0000 930.00 751.75)" font-size="23.10">point</text>
<text id="cap2_w9" transform="matrix(1.1558 0 0 1.0000 993.87 751.75)" font-size="23.10">(rigth</text>
<text id="cap2_w10" transform="matrix(1.0876 0 0 1.0000 1062.21 751.75)" font-size="23.10">panel)</text>
<text id="iep_w0" transform="matrix(0.9093 0 0 1.0000 776.19 783.90)" font-size="14.30">IEP</text>
<text id="iep_w1" transform="matrix(0.9522 0 0 1.0000 801.16 783.90)" font-size="14.30">SAS</text>
<text id="N" transform="matrix(0.9264 0 0 1.0000 1196.61 79.90)" font-size="23.10">N</text>
<text id="S" transform="matrix(0.8960 0 0 1.0000 1197.47 655.60)" font-size="23.10">S</text>
<text id="W" transform="matrix(0.9507 0 0 1.0000 841.60 359.90)" font-size="23.10">W</text>
<text id="E" transform="matrix(0.8501 0 0 1.0000 1507.39 359.90)" font-size="23.10">E</text>
<text id="lt0" transform="matrix(1.0529 0 0 1.0000 130.70 319.60)" font-size="14.30">3.50</text>
<text id="lt1" transform="matrix(1.0439 0 0 1.0000 207.70 319.60)" font-size="14.30">3.75</text>
<text id="lt2" transform="matrix(1.0370 0 0 1.0000 284.63 319.60)" font-size="14.30">4.00</text>
<text id="lt3" transform="matrix(1.0497 0 0 1.0000 361.64 319.60)" font-size="14.30">4.25</text>
<text id="lt4" transform="matrix(1.0370 0 0 1.0000 437.63 319.60)" font-size="14.30">4.50</text>
<text id="lt5" transform="matrix(1.0497 0 0 1.0000 514.64 319.60)" font-size="14.30">4.75</text>
<text id="lt6" transform="matrix(1.0550 0 0 1.0000 591.64 319.60)" font-size="14.30">5.00</text>
<text id="lab0" transform="matrix(0.9355 0 0 1.0000 144.92 349.00)" font-size="14.30">Rd</text>
<text id="lab1" transform="matrix(0.9351 0 0 1.0000 412.32 349.00)" font-size="14.30">Re</text>
<text id="lab2" transform="matrix(0.9008 0 0 1.0000 578.59 349.00)" font-size="14.30">Ru</text>
<text id="yt0" transform="matrix(1.0573 0 0 1.0000 879.96 110.00)" font-size="14.30">1.00</text>
<text id="yt1" transform="matrix(1.0541 0 0 1.0000 879.63 171.62)" font-size="14.30">0.75</text>
<text id="yt2" transform="matrix(1.0622 0 0 1.0000 879.83 233.25)" font-size="14.30">0.50</text>
<text id="yt3" transform="matrix(1.0541 0 0 1.0000 879.63 294.88)" font-size="14.30">0.25</text>
<text id="yt4" transform="matrix(1.0622 0 0 1.0000 879.83 356.50)" font-size="14.30">0.00</text>
<text id="yt5m" transform="matrix(1.1864 0 0 1.0000 868.63 417.98)" font-size="14.30">−</text>
<text id="yt5" transform="matrix(1.0476 0 0 1.0000 880.22 418.12)" font-size="14.30">0.25</text>
<text id="yt6m" transform="matrix(1.1864 0 0 1.0000 868.63 479.60)" font-size="14.30">−</text>
<text id="yt6" transform="matrix(1.0540 0 0 1.0000 880.21 479.75)" font-size="14.30">0.50</text>
<text id="yt7m" transform="matrix(1.1864 0 0 1.0000 868.63 541.23)" font-size="14.30">−</text>
<text id="yt7" transform="matrix(1.0476 0 0 1.0000 880.22 541.38)" font-size="14.30">0.75</text>
<text id="yt8m" transform="matrix(1.1864 0 0 1.0000 868.63 602.85)" font-size="14.30">−</text>
<text id="yt8" transform="matrix(1.0666 0 0 1.0000 879.91 603.00)" font-size="14.30">1.00</text>
<text id="xt0m" transform="matrix(1.1849 0 0 1.0000 899.76 617.80)" font-size="14.30">−</text>
<text id="xt0" transform="matrix(1.0495 0 0 1.0000 911.18 617.80)" font-size="14.30">1.00</text>
<text id="xt1m" transform="matrix(1.1907 0 0 1.0000 970.01 617.80)" font-size="14.30">−</text>
<text id="xt1" transform="matrix(1.0619 0 0 1.0000 981.43 617.80)" font-size="14.30">0.75</text>
<text id="xt2m" transform="matrix(1.1849 0 0 1.0000 1040.76 617.80)" font-size="14.30">−</text>
<text id="xt2" transform="matrix(1.0654 0 0 1.0000 1051.74 617.80)" font-size="14.30">0.50</text>
<text id="xt3m" transform="matrix(1.1907 0 0 1.0000 1111.01 617.80)" font-size="14.30">−</text>
<text id="xt3" transform="matrix(1.0619 0 0 1.0000 1122.43 617.80)" font-size="14.30">0.25</text>
<text id="xt4" transform="matrix(1.0744 0 0 1.0000 1186.94 617.80)" font-size="14.30">0.00</text>
<text id="xt5" transform="matrix(1.0429 0 0 1.0000 1257.69 617.80)" font-size="14.30">0.25</text>
<text id="xt6" transform="matrix(1.0744 0 0 1.0000 1327.94 617.80)" font-size="14.30">0.50</text>
<text id="xt7" transform="matrix(1.0429 0 0 1.0000 1398.69 617.80)" font-size="14.30">0.75</text>
<text id="xt8" transform="matrix(1.0523 0 0 1.0000 1469.58 617.80)" font-size="14.30">1.00</text>
</g>
</svg>
</body></html>
